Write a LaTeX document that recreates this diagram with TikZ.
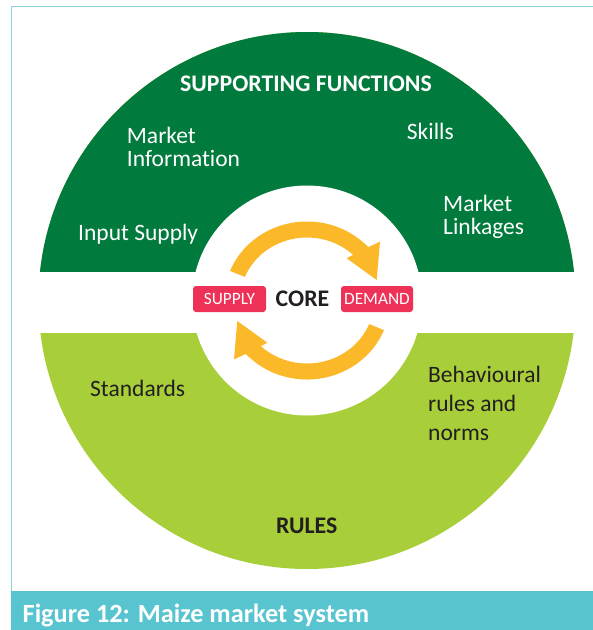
\documentclass[tikz,border=0pt]{standalone}
\usepackage{fontspec}
\setmainfont{Carlito}[Ligatures=NoCommon]
\usetikzlibrary{calc}
\definecolor{dkgreen}{RGB}{0,122,61}
\definecolor{ltgreen}{RGB}{168,206,58}
\definecolor{orangec}{RGB}{251,184,41}
\definecolor{pinkc}{RGB}{238,49,87}
\definecolor{tealbar}{RGB}{88,196,207}
\definecolor{framec}{RGB}{140,210,218}
\definecolor{darktext}{RGB}{35,31,32}
\tikzset{
  lbl/.style={inner sep=0pt, anchor=base west, align=left, font=\fontsize{23.5}{23}\selectfont},
  wlbl/.style={lbl, text=white},
  dlbl/.style={lbl, text=darktext},
  head/.style={inner sep=0pt, anchor=base, font=\fontsize{23.8}{23}\selectfont\bfseries},
  tag/.style={fill=pinkc, text=white, rounded corners=3pt, inner sep=0pt,
    minimum width=73pt, minimum height=26pt, font=\fontsize{17.3}{17.3}\selectfont},
  cyclearrow/.pic={
    \fill[orangec] (158:83 and 79)
      arc[start angle=158, end angle=42.5, x radius=83, y radius=79]
      -- (73,58.8) -- (69.7,20.5) -- (39.7,42.2) -- (46.5:67 and 63)
      arc[start angle=46.5, end angle=158, x radius=67, y radius=63] -- cycle;
  }
}
\begin{document}
\begin{tikzpicture}[x=1pt,y=1pt]
\useasboundingbox (0,0) rectangle (593,-630);
\coordinate (C) at (307,-300.5);
% disc
\fill[ltgreen] (C) circle[radius=268.5];
\begin{scope}
  \clip (0,-272) rectangle (593,0);
  \fill[dkgreen] (C) circle[radius=268.5];
\end{scope}
\fill[white] (30,-272) rectangle (585,-333);
\fill[white] (C) circle[radius=115];
% cycle arrows
\pic at (C) {cyclearrow};
\pic[rotate=180] at (C) {cyclearrow};
% frame and caption bar
\draw[framec, line width=1.5pt] (11.5,-591) -- (11.5,-6.5) -- (593,-6.5);
\fill[tealbar] (10.8,-591) rectangle (593,-630);
% texts
\node[head, text=white] (sf) at (306,-91.7) {SUPPORTING FUNCTIONS};
\node[wlbl] (mi) at (126.7,-166) {Market\\Informat\kern0pt ion};
\node[wlbl] (sk) at (406.7,-139) {Skills};
\node[wlbl] (ml) at (443,-234) {Market\\Linkages};
\node[wlbl] (is) at (78,-240) {Input Supply};
\node[dlbl] (st) at (90,-396) {Standards};
\node[dlbl, font=\fontsize{23.5}{29}\selectfont] (br) at (428,-440) {Behavioural\\rules and\\norms};
\node[head, text=darktext] (ru) at (306.7,-533.3) {RULES};
\node[head, text=darktext] (co) at (302.5,-306.7) {CORE};
\node[tag] (su) at (229.5,-299) {SUPPLY};
\node[tag, minimum width=72pt] (de) at (377,-299) {DEMAND};
\node[inner sep=0pt, anchor=base west, text=white, font=\fontsize{26.3}{26}\selectfont\bfseries] (cap) at (22.5,-622) {Figure 12: Maize market system};
\end{tikzpicture}
\end{document}
